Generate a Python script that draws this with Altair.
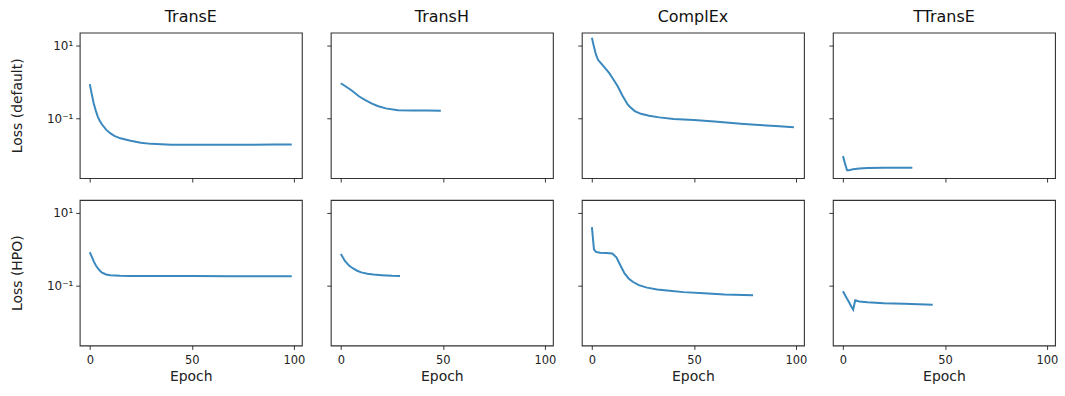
import altair as alt
import pandas as pd

models = ["TransE", "TransH", "ComplEx", "TTransE"]
settings = ["default", "HPO"]
row_titles = ["Loss (default)", "Loss (HPO)"]

# ---- default setting ----
transe_def_epoch = [0, 1, 2, 3, 4, 5, 6, 8, 10, 12, 15, 20, 25, 30, 40, 50, 60, 70, 80, 90, 99]
transe_def_loss = [0.87, 0.45, 0.25, 0.16, 0.11, 0.085, 0.069, 0.05, 0.04, 0.034, 0.029, 0.025,
                   0.022, 0.0205, 0.0195, 0.0195, 0.0195, 0.0195, 0.0195, 0.0197, 0.0198]

transh_def_epoch = [0, 5, 9, 12, 15, 18, 22, 28, 35, 42, 49]
transh_def_loss = [0.92, 0.60, 0.40, 0.32, 0.26, 0.22, 0.19, 0.17, 0.166, 0.165, 0.164]

complex_def_epoch = [0, 1, 2, 3, 4.5, 7, 8.6, 10, 12.7, 15, 17.6, 19, 21, 24, 28, 33, 40, 50, 60, 73, 80, 90, 99]
complex_def_loss = [16.0, 9.0, 5.5, 4.0, 3.2, 2.2, 1.7, 1.3, 0.75, 0.42, 0.24, 0.20, 0.16, 0.135, 0.12,
                    0.108, 0.098, 0.092, 0.083, 0.072, 0.068, 0.063, 0.058]

ttranse_def_epoch = [0, 1, 2, 3, 5, 8, 12, 20, 34]
ttranse_def_loss = [0.0095, 0.006, 0.0039, 0.0039, 0.0042, 0.0044, 0.0045, 0.0046, 0.0046]

# ---- HPO setting ----
transe_hpo_epoch = [0, 1, 2, 3, 4, 5, 6, 8, 10, 15, 20, 30, 50, 70, 99]
transe_hpo_loss = [0.83, 0.62, 0.46, 0.36, 0.30, 0.26, 0.23, 0.205, 0.195, 0.19, 0.188, 0.187, 0.186, 0.185, 0.185]

transh_hpo_epoch = [0, 2, 4, 6, 8, 10, 13, 16, 20, 25, 29]
transh_hpo_loss = [0.74, 0.48, 0.36, 0.30, 0.26, 0.235, 0.215, 0.205, 0.197, 0.19, 0.187]

complex_hpo_epoch = [0, 1, 2, 4, 7, 10, 12, 14, 16, 18, 20, 23, 27, 32, 38, 45, 55, 65, 79]
complex_hpo_loss = [4.0, 1.0, 0.85, 0.80, 0.79, 0.77, 0.60, 0.36, 0.22, 0.16, 0.13, 0.105, 0.09, 0.08,
                    0.074, 0.068, 0.063, 0.059, 0.056]

ttranse_hpo_epoch = [0, 1, 2, 3, 4, 5, 6, 8, 12, 20, 30, 44]
ttranse_hpo_loss = [0.072, 0.057, 0.045, 0.036, 0.028, 0.0226, 0.041, 0.038, 0.036, 0.034, 0.033, 0.031]

series = {
    ("TransE", "default"): (transe_def_epoch, transe_def_loss),
    ("TransH", "default"): (transh_def_epoch, transh_def_loss),
    ("ComplEx", "default"): (complex_def_epoch, complex_def_loss),
    ("TTransE", "default"): (ttranse_def_epoch, ttranse_def_loss),
    ("TransE", "HPO"): (transe_hpo_epoch, transe_hpo_loss),
    ("TransH", "HPO"): (transh_hpo_epoch, transh_hpo_loss),
    ("ComplEx", "HPO"): (complex_hpo_epoch, complex_hpo_loss),
    ("TTransE", "HPO"): (ttranse_hpo_epoch, ttranse_hpo_loss),
}

x_ticks = [0, 50, 100]
y_ticks = [0.1, 10]

FONT = "DejaVu Sans"
PANEL_W = 223
PANEL_H = 146

panels = []
for r, setting in enumerate(settings):
    for c, model in enumerate(models):
        ep, loss = series[(model, setting)]
        df = pd.DataFrame({"epoch": ep, "loss": loss})
        bottom = r == len(settings) - 1
        first = c == 0
        x_axis = alt.Axis(
            values=x_ticks, labels=bottom, title="Epoch" if bottom else None,
            grid=False, domain=False, tickSize=4, tickColor="#222", tickWidth=0.9,
            labelFontSize=11.5, labelColor="#222", labelPadding=5, labelFont=FONT,
            titleFontSize=14, titleFontWeight="normal", titleColor="#222", titleFont=FONT,
            titlePadding=4,
        )
        y_axis = alt.Axis(
            values=y_ticks, labels=first, title=row_titles[r] if first else None,
            labelExpr="datum.value >= 1 ? '10\u00b9' : '10\u207b\u00b9'",
            grid=False, domain=False, tickSize=4, tickColor="#222", tickWidth=0.9,
            labelFontSize=12, labelColor="#222", labelPadding=3, labelFont=FONT,
            titleFontSize=14, titleFontWeight="normal", titleColor="#222", titleFont=FONT,
            titlePadding=22,
        )
        ch = alt.Chart(df).mark_line(color="#1f77b4", strokeWidth=2, opacity=0.88, clip=True).encode(
            x=alt.X("epoch:Q", scale=alt.Scale(domain=[-4.95, 103.95], nice=False, zero=False), axis=x_axis),
            y=alt.Y("loss:Q", scale=alt.Scale(type="log", domain=[0.0024, 22], nice=False), axis=y_axis),
        ).properties(width=PANEL_W, height=PANEL_H)
        if r == 0:
            ch = ch.properties(title=alt.TitleParams(model, fontSize=16, fontWeight="normal",
                                                     font=FONT, color="#111", offset=8))
        panels.append(ch)

chart = alt.concat(*panels, columns=4, spacing={"row": 22, "column": 29}, bounds="flush").properties(
    padding={"left": 10, "top": 7, "right": 6, "bottom": 5},
).configure(background="white", view=alt.ViewConfig(stroke="#333", strokeWidth=1.1))

chart.save("out.html", embed_options={"renderer": "svg", "actions": False})
